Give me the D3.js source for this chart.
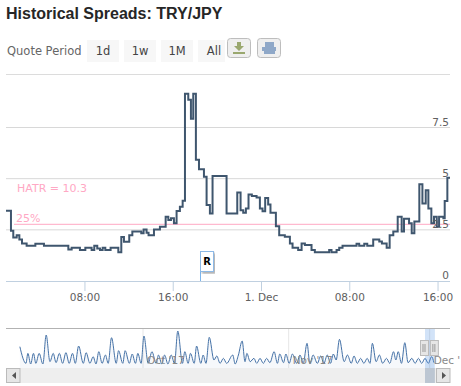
<!DOCTYPE html>
<html>
<head>
<meta charset="utf-8">
<script src="https://cdn.jsdelivr.net/npm/d3@7"></script>
<style>
html, body { margin: 0; padding: 0; background: #fff; overflow: hidden; }
svg { display: block; }
text { font-family: "DejaVu Sans", sans-serif; }
</style>
</head>
<body>
<svg id="chart"></svg>
<script>
const titleText = 'Historical Spreads: TRY/JPY';
const periodLabel = 'Quote Period';
const periodButtons = ['1d', '1w', '1M', 'All'];

// main chart, hours since 30 Nov 00:00 and the spread from that moment on
const spreadHours = [0.89, 1.34, 1.55, 1.86, 2.10, 2.34, 2.76, 3.55, 4.33, 6.54, 6.84, 7.59, 8.08, 8.65, 8.89, 9.16, 9.41, 9.65, 9.89, 10.37, 11.07, 11.34, 11.58, 12.06, 12.34, 13.15, 13.36, 13.63, 13.81, 14.30, 14.84, 15.36, 15.60, 15.84, 16.11, 16.35, 16.65, 16.90, 17.11, 17.41, 17.65, 17.86, 18.10, 18.38, 18.83, 19.07, 19.37, 19.61, 20.88, 21.85, 22.15, 22.39, 22.63, 22.87, 23.17, 23.60, 23.90, 24.14, 24.38, 24.65, 24.86, 25.35, 25.65, 26.16, 26.62, 26.86, 27.37, 27.68, 27.98, 28.58, 28.88, 30.18, 30.39, 30.85, 31.09, 31.39, 32.66, 32.90, 33.36, 33.63, 34.17, 34.72, 34.96, 35.39, 35.66, 35.99, 36.39, 36.75, 36.96, 37.42, 37.66, 37.90, 38.35, 38.63, 38.93, 39.17, 39.44, 39.68, 39.93, 40.14, 40.53, 40.65, 40.89, 41.13];
const spreadValues = [3.43, 2.46, 2.13, 2.24, 2.03, 1.83, 1.72, 1.82, 1.72, 1.54, 1.63, 1.51, 1.63, 1.51, 1.72, 1.59, 1.51, 1.63, 1.51, 1.63, 1.41, 2.15, 1.92, 2.24, 2.42, 2.33, 2.52, 2.36, 2.23, 2.52, 2.65, 3.14, 2.98, 3.06, 2.82, 3.42, 3.63, 3.92, 9.15, 8.86, 7.93, 9.15, 5.93, 5.46, 5.09, 3.71, 3.30, 5.13, 3.30, 4.33, 3.46, 3.34, 3.54, 4.23, 4.15, 4.08, 3.54, 3.41, 4.05, 3.74, 3.33, 2.68, 2.24, 2.16, 1.83, 1.63, 1.51, 1.83, 1.76, 1.51, 1.41, 1.51, 1.41, 1.51, 1.63, 1.72, 1.82, 1.72, 1.82, 1.72, 2.03, 1.93, 1.83, 1.63, 2.23, 2.42, 3.14, 2.42, 3.04, 2.82, 2.33, 2.91, 4.73, 3.79, 4.44, 3.54, 2.82, 3.14, 2.65, 3.14, 3.06, 3.91, 5.05, 5.05];

const xTickHours = [8, 16, 24, 32, 40];
const xTickLabels = ['08:00', '16:00', '1. Dec', '08:00', '16:00'];
const yTicks = [0, 2.5, 5, 7.5];
const yTickLabels = ['0', '2.5', '5', '7.5'];

const hatrLabel = 'HATR = 10.3';
const bandLabel = '25%';
const bandValue = 2.77;
const flagHour = 18.45;
const flagLabel = 'R';

// navigator, days since 1 Oct
const navDays = [-26.2, -24.9, -24.5, -23.9, -23.3, -22.8, -22.1, -21.3, -20.6, -19.8, -19.1, -18.5, -17.8, -17.1, -16.4, -15.7, -15.0, -14.4, -13.7, -12.7, -12.1, -11.3, -10.6, -10.0, -9.4, -8.7, -8.0, -7.4, -6.7, -5.7, -5.2, -4.3, -3.8, -2.9, -2.3, -1.6, -1.1, -0.4, 0.2, 1.1, 1.9, 2.8, 3.3, 4.0, 4.6, 5.3, 6.0, 6.7, 7.4, 8.4, 8.9, 9.6, 10.1, 10.9, 11.4, 12.3, 12.8, 13.4, 14.1, 15.1, 15.7, 16.4, 17.1, 17.8, 19.1, 19.6, 20.3, 21.1, 21.7, 22.1, 22.8, 23.6, 24.2, 24.9, 25.6, 26.3, 27.0, 27.9, 28.6, 29.1, 29.9, 30.4, 31.1, 31.8, 32.7, 33.4, 34.1, 34.9, 35.5, 36.2, 37.1, 37.8, 38.5, 39.2, 39.9, 40.5, 41.1, 41.8, 42.8, 43.5, 44.3, 44.9, 45.6, 46.3, 47.0, 47.7, 48.3, 48.8, 49.6, 50.3, 51.0, 51.8, 52.5, 53.3, 53.8, 54.3, 55.0, 55.7, 56.4, 57.2, 57.9, 58.6, 59.3, 60.0, 60.7, 61.4, 61.9];
const navValues = [5.5, 0.5, 3.5, 0.3, 3.5, 0.5, 3.5, 0.3, 9.0, 1.0, 3.5, 0.7, 3.5, 0.5, 3.7, 0.5, 3.5, 0.5, 5.7, 0.5, 3.7, 0.5, 2.5, 0.3, 4.0, 0.5, 3.0, 0.5, 8.2, 0.5, 4.3, 0.5, 4.3, 0.5, 3.3, 0.5, 3.5, 0.5, 8.7, 0.5, 4.0, 0.5, 3.0, 0.3, 3.0, 0.3, 3.0, 0.5, 10.2, 0.5, 4.0, 0.5, 3.5, 0.5, 5.7, 0.5, 3.0, 0.5, 8.3, 1.5, 2.7, 0.5, 2.0, 0.5, 3.0, 0.3, 3.0, 7.2, 1.0, 3.5, 1.0, 2.0, 0.5, 2.0, 0.5, 2.0, 0.7, 4.0, 0.5, 3.3, 0.7, 3.3, 0.5, 3.3, 0.5, 3.0, 0.5, 6.5, 0.5, 3.0, 0.5, 2.7, 0.5, 3.0, 0.5, 3.3, 1.5, 7.7, 1.0, 3.0, 0.5, 2.7, 0.5, 2.0, 0.5, 2.0, 0.5, 6.5, 1.0, 3.0, 0.5, 2.0, 0.5, 4.0, 1.5, 4.0, 0.5, 6.7, 0.7, 2.0, 0.5, 2.0, 0.5, 2.0, 0.5, 2.5, 0.7];
const navTickDays = [0, 31, 61];
const navTickLabels = ["Oct '17", "Nov '17", "Dec '"];
const navWindowDays = [60, 62.1];

const width = 461;
const height = 386;
const left = 6;
const right = 450;

const lineColor = '#3f566e';
const gridColor = '#d8d8d8';
const axisColor = '#c0d0e0';
const pink = '#ffa8c4';
const labelColor = '#606060';

const svg = d3.select('#chart')
    .attr('width', width)
    .attr('height', height);

const defs = svg.append('defs');
defs.append('clipPath').attr('id', 'plot-clip')
    .append('rect').attr('x', left).attr('y', 80).attr('width', right - left).attr('height', 201);
defs.append('clipPath').attr('id', 'nav-clip')
    .append('rect').attr('x', left).attr('y', 328).attr('width', right - left).attr('height', 40);
const shadow = defs.append('filter').attr('id', 'flag-shadow');
shadow.append('feDropShadow')
    .attr('dx', 2).attr('dy', 2).attr('stdDeviation', 1)
    .attr('flood-color', '#000').attr('flood-opacity', 0.3);

// Title and buttons
svg.append('text')
    .attr('x', 6)
    .attr('y', 19)
    .style('font-family', '"Liberation Sans", Arial, sans-serif')
    .style('font-weight', 'bold')
    .style('font-size', '16px')
    .style('fill', '#262626')
    .text(titleText);

svg.append('text')
    .attr('x', 7)
    .attr('y', 55)
    .style('font-size', '11.5px')
    .style('fill', '#666')
    .text(periodLabel);

const buttonX = d3.scalePoint().domain(periodButtons).range([87, 198]);
periodButtons.forEach(b => {
    const w = b === 'All' ? 27 : 32;
    svg.append('rect')
        .attr('x', buttonX(b))
        .attr('y', 40)
        .attr('width', w)
        .attr('height', 22)
        .style('fill', '#f7f7f7');
    svg.append('text')
        .attr('x', buttonX(b) + 16)
        .attr('y', 55)
        .attr('text-anchor', 'middle')
        .style('font-size', '11.5px')
        .style('fill', '#444')
        .text(b);
});

// Export icons
[[227, '#9aa86f'], [257, '#8fa8c8']].forEach(([x, c], i) => {
    svg.append('rect')
        .attr('x', x + 0.5).attr('y', 38.5)
        .attr('width', 23).attr('height', 19).attr('rx', 3)
        .style('fill', '#efefef').style('stroke', '#bdbdbd');
    if (i === 0) {
        svg.append('path')
            .attr('d', `M${x + 10},42h4v4h3l-5,5l-5,-5h3z`)
            .style('fill', c);
        svg.append('rect').attr('x', x + 6).attr('y', 52).attr('width', 12).attr('height', 2).style('fill', c);
    } else {
        svg.append('rect').attr('x', x + 8).attr('y', 42).attr('width', 9).attr('height', 5).style('fill', c);
        svg.append('rect').attr('x', x + 5).attr('y', 47).attr('width', 14).attr('height', 4).style('fill', c);
        svg.append('rect').attr('x', x + 7).attr('y', 51).attr('width', 11).attr('height', 3).style('fill', c);
    }
});

svg.append('line')
    .attr('x1', left).attr('x2', right)
    .attr('y1', 74.5).attr('y2', 74.5)
    .style('stroke', '#dcdcdc');

// Scales
const xScale = d3.scaleLinear()
    .domain([d3.min(spreadHours), d3.max(spreadHours)])
    .range([left, right]);

const yScale = d3.scaleLinear()
    .domain([0, 7.5])
    .range([281, 127.5]);

// Grid lines
yTicks.filter(d => d > 0).forEach(d => {
    svg.append('line')
        .attr('x1', left).attr('x2', right)
        .attr('y1', yScale(d)).attr('y2', yScale(d))
        .style('stroke', gridColor)
        .style('stroke-width', 1);
});

// Band and its labels
svg.append('line')
    .attr('x1', 14).attr('x2', right)
    .attr('y1', yScale(bandValue)).attr('y2', yScale(bandValue))
    .style('stroke', pink);

svg.append('text')
    .attr('x', 17)
    .attr('y', 192)
    .style('font-size', '11px')
    .style('fill', pink)
    .text(hatrLabel);

svg.append('text')
    .attr('x', 16)
    .attr('y', 222)
    .style('font-size', '11px')
    .style('fill', pink)
    .text(bandLabel);

// Spread line
const spreadPoints = spreadHours.map((h, i) => [h, spreadValues[i]]);
const spreadLine = d3.line()
    .x(d => xScale(d[0]))
    .y(d => yScale(d[1]))
    .curve(d3.curveStepAfter);

svg.append('path')
    .datum(spreadPoints)
    .attr('d', spreadLine)
    .attr('clip-path', 'url(#plot-clip)')
    .style('fill', 'none')
    .style('stroke', lineColor)
    .style('stroke-width', 2);

// X axis
const xAxis = d3.axisBottom(xScale)
    .tickValues(xTickHours)
    .tickFormat((d, i) => xTickLabels[i])
    .tickSize(10)
    .tickPadding(3);

const xAxisG = svg.append('g')
    .attr('transform', 'translate(0, 281)')
    .call(xAxis);
xAxisG.select('.domain').remove();
xAxisG.selectAll('line').style('stroke', axisColor);
xAxisG.selectAll('text')
    .style('font-family', '"DejaVu Sans", sans-serif')
    .style('font-size', '10.5px')
    .style('fill', labelColor);

svg.append('line')
    .attr('x1', left).attr('x2', right)
    .attr('y1', 281.5).attr('y2', 281.5)
    .style('stroke', axisColor);

// Y axis labels sit over the grid lines
yTicks.forEach((d, i) => {
    svg.append('text')
        .attr('x', 449)
        .attr('y', yScale(d) - 2)
        .attr('text-anchor', 'end')
        .style('font-size', '10.5px')
        .style('fill', labelColor)
        .text(yTickLabels[i]);
});

// Flag
const flagX = Math.round(xScale(flagHour)) + 0.5;
svg.append('line')
    .attr('x1', flagX).attr('x2', flagX)
    .attr('y1', 271).attr('y2', 281)
    .style('stroke', '#7cb5ec');
svg.append('rect')
    .attr('x', flagX).attr('y', 251.5)
    .attr('width', 13).attr('height', 20)
    .attr('filter', 'url(#flag-shadow)')
    .style('fill', '#fff')
    .style('stroke', '#8db9e6');
svg.append('text')
    .attr('x', flagX + 6.5)
    .attr('y', 265)
    .attr('text-anchor', 'middle')
    .style('font-size', '10px')
    .style('font-weight', 'bold')
    .style('fill', '#000')
    .text(flagLabel);

// Navigator
const navX = d3.scaleLinear().domain([0, 31]).range([143, 288.7]);
const navY = d3.scaleLinear().domain([0, 10]).range([365, 331.7]);
const navPoints = navDays.map((d, i) => [d, navValues[i]]);

const navG = svg.append('g').attr('clip-path', 'url(#nav-clip)');

navTickDays.forEach(d => {
    navG.append('line')
        .attr('x1', navX(d)).attr('x2', navX(d))
        .attr('y1', 328).attr('y2', 368)
        .style('stroke', '#e6e6e6');
});

navG.append('path')
    .datum(navPoints)
    .attr('d', d3.area().x(d => navX(d[0])).y0(368).y1(d => navY(d[1])).curve(d3.curveMonotoneX))
    .style('fill', '#4572a7')
    .style('fill-opacity', 0.05);

navG.append('path')
    .datum(navPoints)
    .attr('d', d3.line().x(d => navX(d[0])).y(d => navY(d[1])).curve(d3.curveMonotoneX))
    .style('fill', 'none')
    .style('stroke', '#4572a7')
    .style('stroke-width', 1);

svg.append('line')
    .attr('x1', left).attr('x2', right)
    .attr('y1', 328.5).attr('y2', 328.5)
    .style('stroke', '#b2b2b2');

navTickDays.forEach((d, i) => {
    svg.append('text')
        .attr('x', navX(d) + 4)
        .attr('y', 364)
        .style('font-size', '10.5px')
        .style('fill', '#888')
        .text(navTickLabels[i]);
});

// Scrollbar
svg.append('rect')
    .attr('x', left).attr('y', 368)
    .attr('width', right - left).attr('height', 15)
    .style('fill', '#eeeeee');

const windowX0 = navX(navWindowDays[0]);
const windowX1 = navX(navWindowDays[1]);

svg.append('rect')
    .attr('x', windowX0).attr('y', 329)
    .attr('width', windowX1 - windowX0).attr('height', 39)
    .style('fill', '#4a90e2')
    .style('fill-opacity', 0.25);
svg.append('rect')
    .attr('x', windowX0).attr('y', 368)
    .attr('width', windowX1 - windowX0).attr('height', 15)
    .style('fill', '#bcc6d2');

[windowX0, windowX1].forEach(x => {
    svg.append('rect')
        .attr('x', x - 4.5).attr('y', 340.5)
        .attr('width', 8).attr('height', 15)
        .style('fill', '#e6e6e6')
        .style('stroke', '#bbb');
    [-2, 0].forEach(o => {
        svg.append('line')
            .attr('x1', x + o).attr('x2', x + o)
            .attr('y1', 344).attr('y2', 352)
            .style('stroke', '#999');
    });
});

[[6, 'M16,372v7l-4,-3.5z'], [436, 'M442,372v7l4,-3.5z']].forEach(([x, arrow]) => {
    svg.append('rect')
        .attr('x', x + 0.5).attr('y', 368.5)
        .attr('width', 13.5).attr('height', 14)
        .style('fill', '#e6e6e6')
        .style('stroke', '#bbb');
    svg.append('path').attr('d', arrow).style('fill', '#555');
});
</script>
</body>
</html>
